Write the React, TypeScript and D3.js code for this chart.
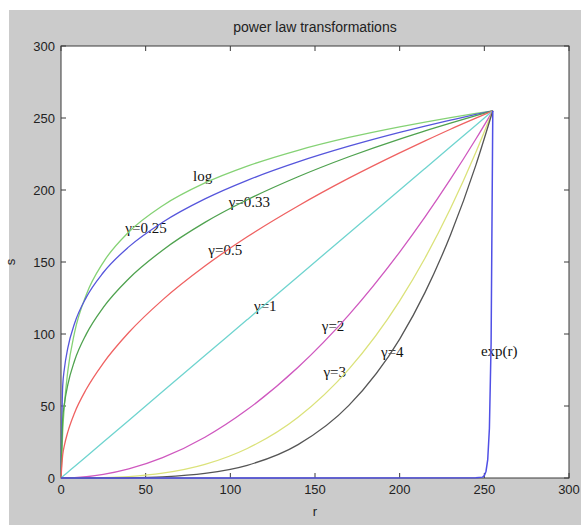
import { useEffect, useRef } from "react";
import * as d3 from "d3";

// sample points (r = input grey level)
const rValues = [0, 1, 2, 4, 8, 15, 25, 40, 60, 85, 110, 140, 170, 200, 215, 230, 245, 255];

const logValues = [0, 31.9, 50.5, 74.0, 101.0, 127.5, 149.8, 170.8, 189.1, 204.9, 216.6, 227.6, 236.5, 243.9, 247.2, 250.3, 253.2, 255];
const g025Values = [0, 63.8, 75.9, 90.2, 107.3, 125.6, 142.7, 160.5, 177.6, 193.8, 206.7, 219.5, 230.4, 240.0, 244.4, 248.5, 252.5, 255];
const g033Values = [0, 41.0, 51.5, 64.7, 81.4, 100.1, 118.5, 138.4, 158.2, 177.5, 193.2, 209.2, 223.1, 235.4, 241.0, 246.5, 251.7, 255];
const g05Values = [0, 16.0, 22.6, 31.9, 45.2, 61.8, 79.8, 101.0, 123.7, 147.2, 167.5, 188.9, 208.2, 225.8, 234.1, 242.2, 249.9, 255];
const g1Values = [0, 1, 2, 4, 8, 15, 25, 40, 60, 85, 110, 140, 170, 200, 215, 230, 245, 255];
const g2Values = [0, 0, 0, 0.06, 0.25, 0.88, 2.45, 6.27, 14.1, 28.3, 47.5, 76.9, 113.3, 156.9, 181.3, 207.5, 235.4, 255];
const g3Values = [0, 0, 0, 0, 0, 0.05, 0.24, 0.98, 3.32, 9.44, 20.5, 42.2, 75.6, 123.0, 152.8, 187.1, 226.2, 255];
const g4Values = [0, 0, 0, 0, 0, 0, 0.02, 0.15, 0.78, 3.15, 8.83, 23.2, 50.4, 96.5, 128.9, 168.8, 217.3, 255];

const rExp = [0, 245, 249, 250, 251, 252, 253, 254, 255];
const expValues = [0, 0.1, 0.6, 1.7, 4.7, 12.7, 34.5, 93.8, 255];

const seriesNames = ["log", "γ=0.25", "γ=0.33", "γ=0.5", "γ=1", "γ=2", "γ=3", "γ=4"];
const seriesColors = ["#85d275", "#5656dc", "#4fa24f", "#ef6262", "#6fd4cf", "#cf58bf", "#dbe27a", "#555555"];

// label anchor points (data coords) for the in-plot text
const labelText = ["log", "γ=0.25", "γ=0.33", "γ=0.5", "γ=1", "γ=2", "γ=3", "γ=4", "exp(r)"];
const labelR = [78, 38, 99, 87, 114, 154, 155, 189, 248];
const labelS = [206, 170, 188, 155, 116, 102, 70, 84, 85];

const ticks = [0, 50, 100, 150, 200, 250, 300];

export default function App() {
  const ref = useRef<SVGSVGElement | null>(null);

  useEffect(() => {
    const W = 581;
    const H = 525;
    const left = 61, right = 569, top = 46, bottom = 478;

    const svg = d3.select(ref.current);
    svg.selectAll("*").remove();

    svg.append("rect").attr("width", W).attr("height", H).attr("fill", "#fff");
    svg.append("rect")
      .attr("x", 9).attr("y", 10)
      .attr("width", W - 9).attr("height", H - 10)
      .attr("fill", "#cbcbcb");

    const x = d3.scaleLinear().domain([0, 300]).range([left, right]);
    const y = d3.scaleLinear().domain([0, 300]).range([bottom, top]);

    svg.append("rect")
      .attr("x", left).attr("y", top)
      .attr("width", right - left).attr("height", bottom - top)
      .attr("fill", "#fff")
      .attr("stroke", "#3a3a3a")
      .attr("stroke-width", 1);

    const tickLen = 5;
    const tg = svg.append("g").attr("stroke", "#3a3a3a").attr("stroke-width", 1);
    ticks.forEach(t => {
      tg.append("line").attr("x1", x(t)).attr("x2", x(t)).attr("y1", bottom).attr("y2", bottom - tickLen);
      tg.append("line").attr("x1", x(t)).attr("x2", x(t)).attr("y1", top).attr("y2", top + tickLen);
      tg.append("line").attr("y1", y(t)).attr("y2", y(t)).attr("x1", left).attr("x2", left + tickLen);
      tg.append("line").attr("y1", y(t)).attr("y2", y(t)).attr("x1", right).attr("x2", right - tickLen);
    });

    const font = "Liberation Sans, Arial, sans-serif";
    ticks.forEach(t => {
      svg.append("text")
        .attr("x", x(t)).attr("y", bottom + 16)
        .attr("text-anchor", "middle")
        .attr("font-family", font).attr("font-size", 13)
        .attr("fill", "#222")
        .text(t);
      svg.append("text")
        .attr("x", left - 6).attr("y", y(t) + 5)
        .attr("text-anchor", "end")
        .attr("font-family", font).attr("font-size", 13)
        .attr("fill", "#222")
        .text(t);
    });

    svg.append("text")
      .attr("x", (left + right) / 2).attr("y", 32)
      .attr("text-anchor", "middle")
      .attr("font-family", font).attr("font-size", 14)
      .attr("fill", "#222")
      .text("power law transformations");

    svg.append("text")
      .attr("x", x(150)).attr("y", 516)
      .attr("text-anchor", "middle")
      .attr("font-family", font).attr("font-size", 13)
      .attr("fill", "#222")
      .text("r");

    svg.append("text")
      .attr("transform", `translate(15,${y(150)}) rotate(-90)`)
      .attr("text-anchor", "middle")
      .attr("font-family", font).attr("font-size", 13)
      .attr("fill", "#222")
      .text("s");

    // labels
    labelText.forEach((t, i) => {
      svg.append("text")
        .attr("x", x(labelR[i])).attr("y", y(labelS[i]))
        .attr("font-family", "Liberation Serif, Times New Roman, serif")
        .attr("font-size", 15)
        .attr("fill", "#111")
        .text(t);
    });

    const series = [logValues, g025Values, g033Values, g05Values, g1Values, g2Values, g3Values, g4Values];
    const line = d3.line<number>()
      .x((_, i) => x(rValues[i]))
      .y(d => y(d))
      .curve(d3.curveMonotoneX);

    series.forEach((vals, i) => {
      svg.append("path")
        .datum(vals)
        .attr("fill", "none")
        .attr("stroke", seriesColors[i])
        .attr("stroke-width", 1.3)
        .attr("d", line)
        .append("title").text(seriesNames[i]);
    });

    const expLine = d3.line<number>()
      .x((_, i) => x(rExp[i]))
      .y(d => y(d));

    svg.append("path")
      .datum(expValues)
      .attr("fill", "none")
      .attr("stroke", "#5050e6")
      .attr("stroke-width", 1.5)
      .attr("d", expLine);
  }, []);

  return (
    <svg
      ref={ref}
      width={581}
      height={525}
      style={{ position: "absolute", left: 0, top: 0 }}
    />
  );
}
